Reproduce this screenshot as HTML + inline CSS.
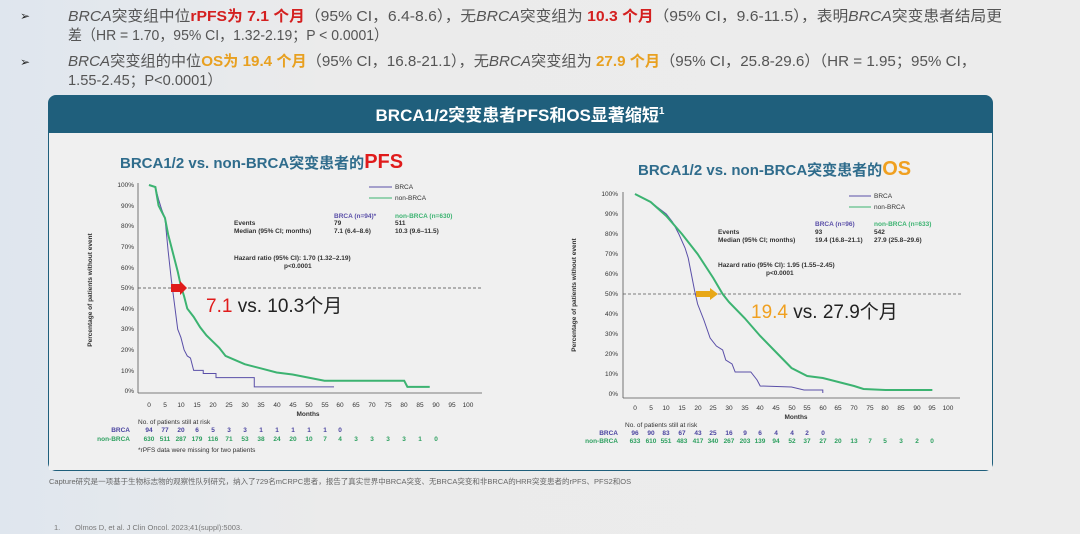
<!DOCTYPE html>
<html><head><meta charset="utf-8"><style>
body{margin:0;width:1080px;height:534px;overflow:hidden;background:linear-gradient(90deg,#dfe6ee 0%,#ebebeb 30%,#ececec 100%);font-family:"Liberation Sans","Noto Sans CJK SC",sans-serif;}
svg{position:absolute;left:0;top:0}
</style></head><body>
<svg width="1080" height="534" viewBox="0 0 1080 534" font-family="Liberation Sans, Noto Sans CJK SC, sans-serif">
<!-- bullets -->
<g font-size="15" fill="#555">
<text x="20" y="20" font-size="12" fill="#222">➢</text>
<text x="68" y="21" textLength="934" lengthAdjust="spacingAndGlyphs"><tspan font-style="italic">BRCA</tspan>突变组中位<tspan fill="#d42020" font-weight="bold">rPFS为 7.1 个月</tspan>（95% CI，6.4-8.6），无<tspan font-style="italic">BRCA</tspan>突变组为 <tspan fill="#d42020" font-weight="bold">10.3 个月</tspan>（95% CI，9.6-11.5），表明<tspan font-style="italic">BRCA</tspan>突变患者结局更</text>
<text x="68" y="40" textLength="320" lengthAdjust="spacingAndGlyphs">差（HR = 1.70，95% CI，1.32-2.19；P &lt; 0.0001）</text>
<text x="20" y="66" font-size="12" fill="#222">➢</text>
<text x="68" y="66" textLength="908" lengthAdjust="spacingAndGlyphs"><tspan font-style="italic">BRCA</tspan>突变组的中位<tspan fill="#e8a020" font-weight="bold">OS为 19.4 个月</tspan>（95% CI，16.8-21.1），无<tspan font-style="italic">BRCA</tspan>突变组为 <tspan fill="#e8a020" font-weight="bold">27.9 个月</tspan>（95% CI，25.8-29.6）（HR = 1.95；95% CI，</text>
<text x="68" y="85" textLength="154" lengthAdjust="spacingAndGlyphs">1.55-2.45；P&lt;0.0001）</text>
</g>
<!-- panel -->
<rect x="48" y="95" width="945" height="376" rx="8" fill="#1f5f7c"/>
<rect x="49" y="133" width="943" height="337" fill="#f0f0f0"/>
<text x="520" y="121" text-anchor="middle" fill="#fff" font-size="17" font-weight="bold">BRCA1/2突变患者PFS和OS显著缩短<tspan font-size="10" dy="-7">1</tspan></text>

<!-- PFS chart -->
<text x="120" y="168" font-size="15" font-weight="bold" fill="#2f6c8c">BRCA1/2 vs. non-BRCA突变患者的<tspan fill="#e01b1b" font-size="20">PFS</tspan></text>
<g font-size="6.5" fill="#333">
<line x1="138" y1="183" x2="138" y2="393" stroke="#555" stroke-width="0.8"/>
<line x1="138" y1="393" x2="482" y2="393" stroke="#555" stroke-width="0.8"/>
<g text-anchor="end">
<text x="134" y="187">100%</text><text x="134" y="208">90%</text><text x="134" y="228">80%</text><text x="134" y="249">70%</text><text x="134" y="270">60%</text><text x="134" y="290">50%</text><text x="134" y="311">40%</text><text x="134" y="331">30%</text><text x="134" y="352">20%</text><text x="134" y="373">10%</text><text x="134" y="393">0%</text>
</g>
<g text-anchor="middle">
<text x="149" y="407">0</text><text x="165" y="407">5</text><text x="181" y="407">10</text><text x="197" y="407">15</text><text x="213" y="407">20</text><text x="229" y="407">25</text><text x="245" y="407">30</text><text x="261" y="407">35</text><text x="277" y="407">40</text><text x="293" y="407">45</text><text x="309" y="407">50</text><text x="325" y="407">55</text><text x="340" y="407">60</text><text x="356" y="407">65</text><text x="372" y="407">70</text><text x="388" y="407">75</text><text x="404" y="407">80</text><text x="420" y="407">85</text><text x="436" y="407">90</text><text x="452" y="407">95</text><text x="468" y="407">100</text>
<text x="308" y="416" font-weight="bold">Months</text>
</g>
<text x="92" y="290" transform="rotate(-90 92 290)" text-anchor="middle" font-weight="bold">Percentage of patients without event</text>
<text x="138" y="424">No. of patients still at risk</text>
<text x="130" y="432" text-anchor="end" fill="#4a44a0" font-weight="bold">BRCA</text>
<text x="130" y="441" text-anchor="end" fill="#2ea060" font-weight="bold">non-BRCA</text>
<g text-anchor="middle" fill="#4a44a0" font-weight="bold"><text x="149" y="432">94</text><text x="165" y="432">77</text><text x="181" y="432">20</text><text x="197" y="432">6</text><text x="213" y="432">5</text><text x="229" y="432">3</text><text x="245" y="432">3</text><text x="261" y="432">1</text><text x="277" y="432">1</text><text x="293" y="432">1</text><text x="309" y="432">1</text><text x="325" y="432">1</text><text x="340" y="432">0</text></g>
<g text-anchor="middle" fill="#2ea060" font-weight="bold"><text x="149" y="441">630</text><text x="165" y="441">511</text><text x="181" y="441">287</text><text x="197" y="441">179</text><text x="213" y="441">116</text><text x="229" y="441">71</text><text x="245" y="441">53</text><text x="261" y="441">38</text><text x="277" y="441">24</text><text x="293" y="441">20</text><text x="309" y="441">10</text><text x="325" y="441">7</text><text x="340" y="441">4</text><text x="356" y="441">3</text><text x="372" y="441">3</text><text x="388" y="441">3</text><text x="404" y="441">3</text><text x="420" y="441">1</text><text x="436" y="441">0</text></g>
<text x="138" y="452">*rPFS data were missing for two patients</text>
<line x1="369" y1="187" x2="392" y2="187" stroke="#5a4fa8"/><text x="395" y="189">BRCA</text>
<line x1="369" y1="198" x2="392" y2="198" stroke="#3cb371"/><text x="395" y="200">non-BRCA</text>
<g font-weight="bold"><text x="334" y="218" fill="#5a4fa8">BRCA (n=94)*</text><text x="395" y="218" fill="#3cb371">non-BRCA (n=630)</text>
<text x="234" y="225">Events</text><text x="334" y="225">79</text><text x="395" y="225">511</text>
<text x="234" y="233">Median (95% CI; months)</text><text x="334" y="233">7.1 (6.4–8.6)</text><text x="395" y="233">10.3 (9.6–11.5)</text>
<text x="234" y="260">Hazard ratio (95% CI): 1.70 (1.32–2.19)</text><text x="284" y="268">p&lt;0.0001</text></g>
</g>
<line x1="138" y1="288" x2="483" y2="288" stroke="#444" stroke-width="0.8" stroke-dasharray="3,2"/>
<g transform="translate(149,391) scale(3.19,-2.06)" fill="none">
<polyline vector-effect="non-scaling-stroke" stroke="#5a4fa8" stroke-width="1" points="0,100 2,99 3,93 4,88 5,84 6,68 7,54 8,42 9,30 10,26 11,20 12,17 13,16 14,10 17,10 17,8.5 21,8.5 21,6.5 33,6.5 33,2 58,2"/>
<polyline vector-effect="non-scaling-stroke" stroke="#3cb371" stroke-width="2" points="0,100 2,99 3,90 4,87 5,84 6,76 7,70 8,64 9,58 10,51 11,46 12,40 14,36 16,31 18,27 20,24 22,21 24,17 27,15 30,13 35,11 40,9 45,8 50,6.5 55,5 60,5 80,5 81,2 88,2"/>
</g>
<polygon points="171,284 180,284 180,281 187,288 180,295 180,292 171,292" fill="#e01b1b"/>
<text x="206" y="312" font-size="19" fill="#222"><tspan fill="#e01b1b">7.1</tspan> vs. 10.3个月</text>

<!-- OS chart -->
<text x="638" y="175" font-size="15" font-weight="bold" fill="#2f6c8c">BRCA1/2 vs. non-BRCA突变患者的<tspan fill="#f0a020" font-size="20">OS</tspan></text>
<g font-size="6.5" fill="#333">
<line x1="623" y1="192" x2="623" y2="398" stroke="#555" stroke-width="0.8"/>
<line x1="623" y1="398" x2="960" y2="398" stroke="#555" stroke-width="0.8"/>
<g text-anchor="end">
<text x="618" y="196">100%</text><text x="618" y="216">90%</text><text x="618" y="236">80%</text><text x="618" y="256">70%</text><text x="618" y="276">60%</text><text x="618" y="296">50%</text><text x="618" y="316">40%</text><text x="618" y="336">30%</text><text x="618" y="356">20%</text><text x="618" y="376">10%</text><text x="618" y="396">0%</text>
</g>
<g text-anchor="middle">
<text x="635" y="410">0</text><text x="651" y="410">5</text><text x="666" y="410">10</text><text x="682" y="410">15</text><text x="698" y="410">20</text><text x="713" y="410">25</text><text x="729" y="410">30</text><text x="745" y="410">35</text><text x="760" y="410">40</text><text x="776" y="410">45</text><text x="792" y="410">50</text><text x="807" y="410">55</text><text x="823" y="410">60</text><text x="838" y="410">65</text><text x="854" y="410">70</text><text x="870" y="410">75</text><text x="885" y="410">80</text><text x="901" y="410">85</text><text x="917" y="410">90</text><text x="932" y="410">95</text><text x="948" y="410">100</text>
<text x="796" y="419" font-weight="bold">Months</text>
</g>
<text x="576" y="295" transform="rotate(-90 576 295)" text-anchor="middle" font-weight="bold">Percentage of patients without event</text>
<text x="625" y="427">No. of patients still at risk</text>
<text x="618" y="435" text-anchor="end" fill="#4a44a0" font-weight="bold">BRCA</text>
<text x="618" y="443" text-anchor="end" fill="#2ea060" font-weight="bold">non-BRCA</text>
<g text-anchor="middle" fill="#4a44a0" font-weight="bold"><text x="635" y="435">96</text><text x="651" y="435">90</text><text x="666" y="435">83</text><text x="682" y="435">67</text><text x="698" y="435">43</text><text x="713" y="435">25</text><text x="729" y="435">16</text><text x="745" y="435">9</text><text x="760" y="435">6</text><text x="776" y="435">4</text><text x="792" y="435">4</text><text x="807" y="435">2</text><text x="823" y="435">0</text></g>
<g text-anchor="middle" fill="#2ea060" font-weight="bold"><text x="635" y="443">633</text><text x="651" y="443">610</text><text x="666" y="443">551</text><text x="682" y="443">483</text><text x="698" y="443">417</text><text x="713" y="443">340</text><text x="729" y="443">267</text><text x="745" y="443">203</text><text x="760" y="443">139</text><text x="776" y="443">94</text><text x="792" y="443">52</text><text x="807" y="443">37</text><text x="823" y="443">27</text><text x="838" y="443">20</text><text x="854" y="443">13</text><text x="870" y="443">7</text><text x="885" y="443">5</text><text x="901" y="443">3</text><text x="917" y="443">2</text><text x="932" y="443">0</text></g>
<line x1="849" y1="196" x2="871" y2="196" stroke="#5a4fa8"/><text x="874" y="198">BRCA</text>
<line x1="849" y1="207" x2="871" y2="207" stroke="#3cb371"/><text x="874" y="209">non-BRCA</text>
<g font-weight="bold"><text x="815" y="226" fill="#5a4fa8">BRCA (n=96)</text><text x="874" y="226" fill="#3cb371">non-BRCA (n=633)</text>
<text x="718" y="234">Events</text><text x="815" y="234">93</text><text x="874" y="234">542</text>
<text x="718" y="242">Median (95% CI; months)</text><text x="815" y="242">19.4 (16.8–21.1)</text><text x="874" y="242">27.9 (25.8–29.6)</text>
<text x="718" y="267">Hazard ratio (95% CI): 1.95 (1.55–2.45)</text><text x="766" y="275">p&lt;0.0001</text></g>
</g>
<line x1="623" y1="294" x2="962" y2="294" stroke="#555" stroke-width="0.8" stroke-dasharray="3,2"/>
<g transform="translate(635,394) scale(3.13,-2.0)" fill="none">
<polyline vector-effect="non-scaling-stroke" stroke="#5a4fa8" stroke-width="1" points="0,100 5,96 10,90 12,86 14,80 16,73 17,68 18,60 19,52 20,45 22,37 24,28 26,24 28,22 29,17 31,15 32,11 37,11 39,7 40,4 50,3.5 54,2 60,2 60,0.5"/>
<polyline vector-effect="non-scaling-stroke" stroke="#3cb371" stroke-width="2" points="0,100 5,96 10,89 15,80 20,70 25,58 28,50 30,46 35,38 40,29 45,21 50,13 55,9 60,8 65,6 70,4 73,2.5 80,2 95,2"/>
</g>
<polygon points="696,291 710,291 710,288 718,294 710,300 710,297 696,297" fill="#e8a818"/>
<text x="751" y="318" font-size="19" fill="#222"><tspan fill="#f0a020">19.4</tspan> vs. 27.9个月</text>

<!-- footer -->
<text x="49" y="484" font-size="7.5" fill="#666">Capture研究是一项基于生物标志物的观察性队列研究，纳入了729名mCRPC患者，报告了真实世界中BRCA突变、无BRCA突变和非BRCA的HRR突变患者的rPFS、PFS2和OS</text>
<text x="54" y="530" font-size="7.5" fill="#777">1.</text>
<text x="75" y="530" font-size="7.5" fill="#777">Olmos D, et al. J Clin Oncol. 2023;41(suppl):5003.</text>
</svg>
</body></html>
